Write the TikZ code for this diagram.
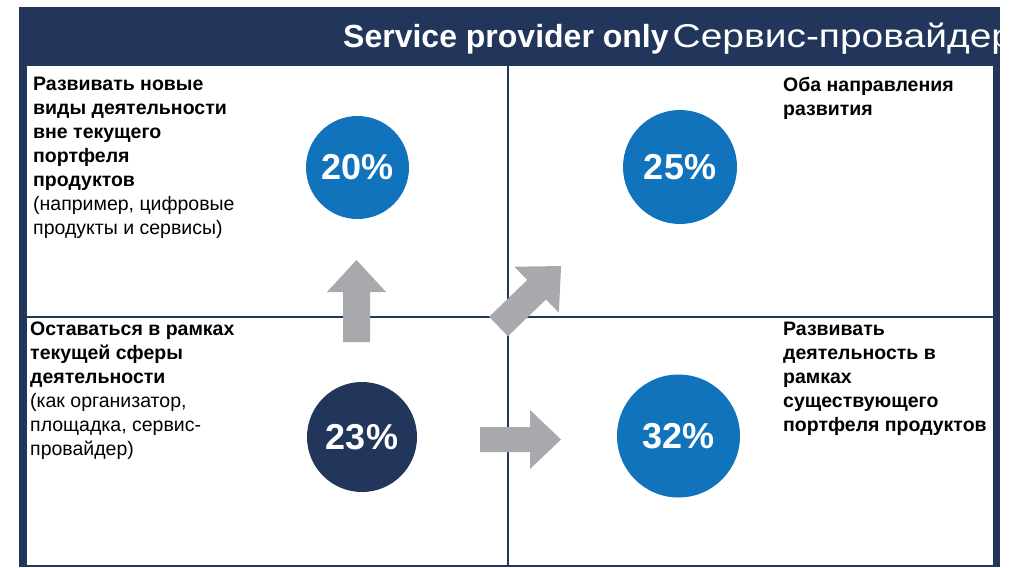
\documentclass[tikz,border=0pt]{standalone}
\usepackage{fontspec}
\setmainfont{Liberation Sans}
\usepackage{xcolor}
\usetikzlibrary{positioning}
\definecolor{navy}{HTML}{22355A}
\definecolor{cblue}{HTML}{1273BD}
\definecolor{agray}{HTML}{A7A9AC}
% стрелка: позиция хвоста, угол, ширина, длина до головки, ширина головки, длина
\newcommand{\blockarr}[6]{\fill[agray, shift={#1}, rotate=#2] (0,-#3/2) -- (#4,-#3/2) -- (#4,-#5/2) -- (#6,0) -- (#4,#5/2) -- (#4,#3/2) -- (0,#3/2) -- cycle;}
\tikzset{
  pct/.style={circle, inner sep=0, text=white, font=\fontsize{36}{40}\selectfont\bfseries},
  lbl/.style={anchor=north west, inner sep=0, align=left, font=\fontsize{19.5}{24}\selectfont}
}

\begin{document}
\begin{tikzpicture}[x=1pt, y=-1pt]
% фон и рамка
\fill[white] (0,0) rectangle (1016,567);
\useasboundingbox (0,0) rectangle (1016,567);
\fill[navy] (19,7) rectangle (1000,567);
\fill[white] (27,66) rectangle (993,565);
% заголовок
\begin{scope}
\clip (19,7) rectangle (1000,66);
\node [anchor=base west, inner sep=0, text=white, font=\fontsize{32}{36}\selectfont] (title) at (343,48) {\textbf{Service provider only}\kern4pt\scalebox{1.18}[1]{\fontsize{33}{36}\selectfont Сервис-провайдер}};
\end{scope}
% сетка
\coordinate (vt) at (508,66);
\coordinate (vb) at (508,565);
\coordinate (hl) at (27,317);
\coordinate (hr) at (993,317);
\draw [navy, line width=2] (vt) -- (vb);
\draw [navy, line width=2] (hl) -- (hr);
% стрелки
\blockarr{(356.5,342)}{90}{27}{50}{59}{82}
\blockarr{(480,439.5)}{0}{25}{50}{59}{81}
\blockarr{(498.5,326.5)}{44}{27}{53}{64}{87}
% круги
\node [pct, fill=cblue, minimum size=103] (p20) at (357.5,167.5) {20\%};
\node [pct, fill=cblue, minimum size=114] (p25) at (680,167) {25\%};
\node [pct, fill=navy, minimum size=110] (p23) at (362,437) {23\%};
\node [pct, fill=cblue, minimum size=123] (p32) at (678.5,436) {32\%};
% подписи
\node [lbl] (tl) at (33,77) {\textbf{Развивать новые}\\\textbf{виды деятельности}\\\textbf{вне текущего}\\\textbf{портфеля}\\\textbf{продуктов}\\(например, цифровые\\продукты и сервисы)};
\node [lbl] (tr) at (783,77) {\textbf{Оба направления}\\\textbf{развития}};
\node [lbl] (bl) at (30,322) {\textbf{Оставаться в рамках}\\\textbf{текущей сферы}\\\textbf{деятельности}\\(как организатор,\\площадка, сервис-\\провайдер)};
\node [lbl] (br) at (783,322) {\textbf{Развивать}\\\textbf{деятельность в}\\\textbf{рамках}\\\textbf{существующего}\\\textbf{портфеля продуктов}};
\end{tikzpicture}
\end{document}
